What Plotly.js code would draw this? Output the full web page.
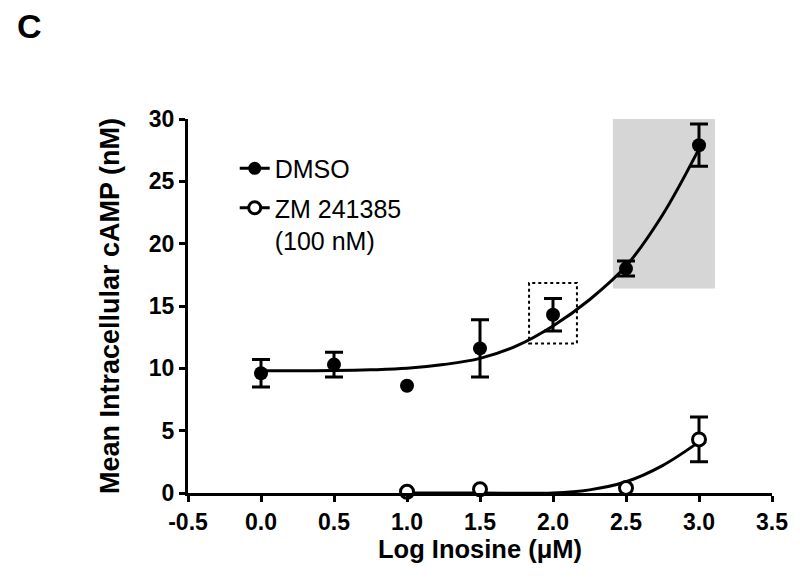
<!DOCTYPE html>
<html>
<head>
<meta charset="utf-8">
<script src="https://cdn.plot.ly/plotly-3.0.1.min.js"></script>
<style>html,body{margin:0;padding:0;background:#fff;}#chart{width:800px;height:582px;}</style>
</head>
<body>
<div id="chart"></div>
<script>
// Data
const dmsoX = [0.0, 0.5, 1.0, 1.5, 2.0, 2.5, 3.0];
const dmsoY = [9.6, 10.3, 8.6, 11.6, 14.3, 18.0, 27.9];
const dmsoErr = [1.1, 1.0, NaN, 2.3, 1.3, 0.6, 1.7];

const zmX = [1.0, 1.5, 2.5, 3.0];
const zmY = [0.1, 0.3, 0.4, 4.3];
const zmErr = [NaN, NaN, NaN, 1.8];

// fitted curves
const dmsoFitX = [0.0, 0.25, 0.5, 0.75, 1.0, 1.25, 1.5, 1.75, 2.0, 2.25, 2.5, 2.75, 3.0];
const dmsoFitY = [9.8, 9.8, 9.82, 9.88, 10.0, 10.3, 10.8, 11.8, 13.4, 15.5, 18.2, 22.3, 27.6];
const zmFitX = [1.0, 1.5, 2.0, 2.25, 2.5, 2.75, 3.0];
const zmFitY = [0.0, 0.0, 0.0, 0.25, 0.9, 2.2, 4.1];

const xTicks = [-0.5, 0.0, 0.5, 1.0, 1.5, 2.0, 2.5, 3.0, 3.5];
const yTicks = [0, 5, 10, 15, 20, 25, 30];

const shadedBox = {x0: 2.41, x1: 3.11, y0: 16.4, y1: 30.3};
const dottedBox = {x0: 1.836, x1: 2.164, y0: 12.0, y1: 16.85};

const F = '"Liberation Sans", Arial, Helvetica, sans-serif';

const traces = [
  {x: dmsoFitX, y: dmsoFitY, mode: 'lines', line: {color: '#000', width: 3, shape: 'spline'}, showlegend: false, hoverinfo: 'skip'},
  {x: zmFitX, y: zmFitY, mode: 'lines', line: {color: '#000', width: 3, shape: 'spline'}, showlegend: false, hoverinfo: 'skip'},
  {x: dmsoX, y: dmsoY, mode: 'markers', showlegend: false, cliponaxis: false,
   marker: {symbol: 'circle', size: 14, color: '#000', line: {color: '#000', width: 0}},
   error_y: {type: 'data', array: dmsoErr, visible: true, color: '#000', thickness: 3, width: 9}},
  {x: zmX, y: zmY, mode: 'markers', showlegend: false, cliponaxis: false,
   marker: {symbol: 'circle', size: 13, color: '#fff', line: {color: '#000', width: 3}},
   error_y: {type: 'data', array: zmErr, visible: true, color: '#000', thickness: 3, width: 9}},
  {x: [null], y: [null], mode: 'lines+markers', name: 'DMSO', legendgroup: 'a',
   line: {color: '#000', width: 3}, marker: {symbol: 'circle', size: 13, color: '#000'}},
  {x: [null], y: [null], mode: 'lines+markers', name: 'ZM 241385<br>(100 nM)', legendgroup: 'b',
   line: {color: '#000', width: 3}, marker: {symbol: 'circle', size: 12, color: '#fff', line: {color: '#000', width: 3}}}
];

const layout = {
  width: 800, height: 582,
  margin: {l: 188, r: 28, t: 119, b: 89, pad: 0},
  paper_bgcolor: '#fff', plot_bgcolor: '#fff',
  font: {family: F, color: '#000'},
  showlegend: true,
  legend: {x: 0.08, y: 0.929, xanchor: 'left', yanchor: 'top', bgcolor: 'rgba(0,0,0,0)', valign: 'top',
    font: {family: F, size: 25, color: '#000'}, itemwidth: 30, traceorder: 'grouped', tracegroupgap: 4},
  xaxis: {range: [-0.5, 3.5], tickvals: xTicks, ticktext: xTicks.map(v => v.toFixed(1)),
    showgrid: false, zeroline: false, showline: true, linecolor: '#000', linewidth: 3,
    ticks: 'outside', ticklen: 6, tickwidth: 3, tickcolor: '#000',
    tickfont: {family: F, size: 23, color: '#000', weight: 'bold'},
    title: {text: '<b>Log Inosine (μM)</b>', font: {family: F, size: 25.5, color: '#000'}, standoff: 6}},
  yaxis: {range: [0, 30], tickvals: yTicks, ticktext: yTicks.map(String),
    showgrid: false, zeroline: false, showline: true, linecolor: '#000', linewidth: 3,
    ticks: 'outside', ticklen: 6, tickwidth: 3, tickcolor: '#000',
    tickfont: {family: F, size: 23, color: '#000', weight: 'bold'},
    title: {text: '<b>Mean Intracellular cAMP (nM)</b>', font: {family: F, size: 27, color: '#000'}, standoff: 22}},
  shapes: [
    {type: 'rect', xref: 'x', yref: 'y', x0: shadedBox.x0, x1: shadedBox.x1, y0: shadedBox.y0, y1: shadedBox.y1,
     fillcolor: '#d6d6d6', line: {width: 0}, layer: 'below'},
    {type: 'rect', xref: 'x', yref: 'y', x0: dottedBox.x0, x1: dottedBox.x1, y0: dottedBox.y0, y1: dottedBox.y1,
     fillcolor: 'rgba(0,0,0,0)', line: {color: '#000', width: 2, dash: 'dot'}, layer: 'above'}
  ],
  annotations: [
    {text: '<b>C</b>', xref: 'paper', yref: 'paper', x: -0.296, y: 1.248, xanchor: 'left', yanchor: 'middle',
     showarrow: false, font: {family: F, size: 34, color: '#000'}}
  ]
};

Plotly.newPlot('chart', traces, layout, {displayModeBar: false, staticPlot: true});
</script>
</body>
</html>
